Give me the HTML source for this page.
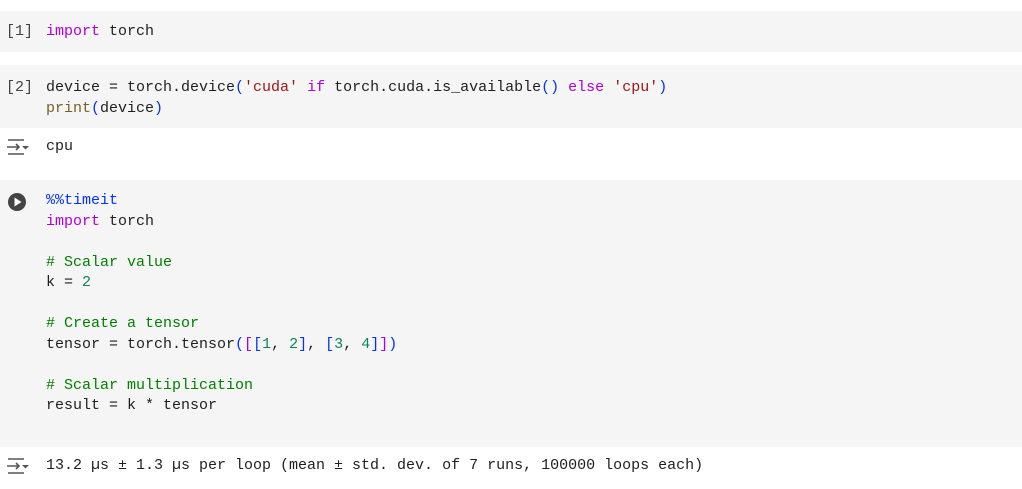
<!DOCTYPE html>
<html><head><style>
body{margin:0;width:1022px;height:489px;background:#fff;position:relative;overflow:hidden;font-family:"Liberation Mono",monospace;font-size:15px;color:#1f1f1f}
.cell{position:absolute;left:0;width:1022px;background:#f5f5f5}
.t{position:absolute;white-space:pre;line-height:20.5px;}
.k{color:#af00db}.s{color:#a31515}.c{color:#008000}.b{color:#0431fa}.f{color:#795e26}.n{color:#098658}
.num{position:absolute;left:6px;color:#444;white-space:pre;line-height:20.5px}
</style></head><body>
<div class="cell" style="top:11px;height:41px"></div>
<div class="cell" style="top:65px;height:63px"></div>
<div class="cell" style="top:180px;height:267px"></div>

<div class="num" style="top:22px">[1]</div>
<div class="t" style="left:46px;top:22px"><span class="k">import</span> torch</div>

<div class="num" style="top:78px">[2]</div>
<div class="t" style="left:46px;top:78px">device = torch.device<span class="b">(</span><span class="s">'cuda'</span> <span class="k">if</span> torch.cuda.is_available<span class="b">()</span> <span class="k">else</span> <span class="s">'cpu'</span><span class="b">)</span>
<span class="f">print</span><span class="b">(</span>device<span class="b">)</span></div>

<svg style="position:absolute;left:6px;top:137px" width="24" height="20"><path d="M2 3h16M2 17h16M1 10h12M10 7l3 3-3 3" stroke="#555" stroke-width="1.6" fill="none"/><path d="M16 9h7l-3.5 3.5z" fill="#555"/></svg>
<div class="t" style="left:46px;top:137px">cpu</div>

<svg style="position:absolute;left:7px;top:192px" width="20" height="20"><circle cx="10" cy="10" r="9" fill="#444"/><path d="M7.5 5.5v9l7-4.5z" fill="#fff"/></svg>
<div class="t" style="left:46px;top:191px"><span class="b">%%timeit</span>
<span class="k">import</span> torch

<span class="c"># Scalar value</span>
k = <span class="n">2</span>

<span class="c"># Create a tensor</span>
tensor = torch.tensor<span class="b">(</span><span class="k">[</span><span class="b">[</span><span class="n">1</span>, <span class="n">2</span><span class="b">]</span>, <span class="b">[</span><span class="n">3</span>, <span class="n">4</span><span class="b">]</span><span class="k">]</span><span class="b">)</span>

<span class="c"># Scalar multiplication</span>
result = k * tensor</div>

<svg style="position:absolute;left:6px;top:456px" width="24" height="20"><path d="M2 3h16M2 17h16M1 10h12M10 7l3 3-3 3" stroke="#555" stroke-width="1.6" fill="none"/><path d="M16 9h7l-3.5 3.5z" fill="#555"/></svg>
<div class="t" style="left:46px;top:456px">13.2 µs ± 1.3 µs per loop (mean ± std. dev. of 7 runs, 100000 loops each)</div>
</body></html>
